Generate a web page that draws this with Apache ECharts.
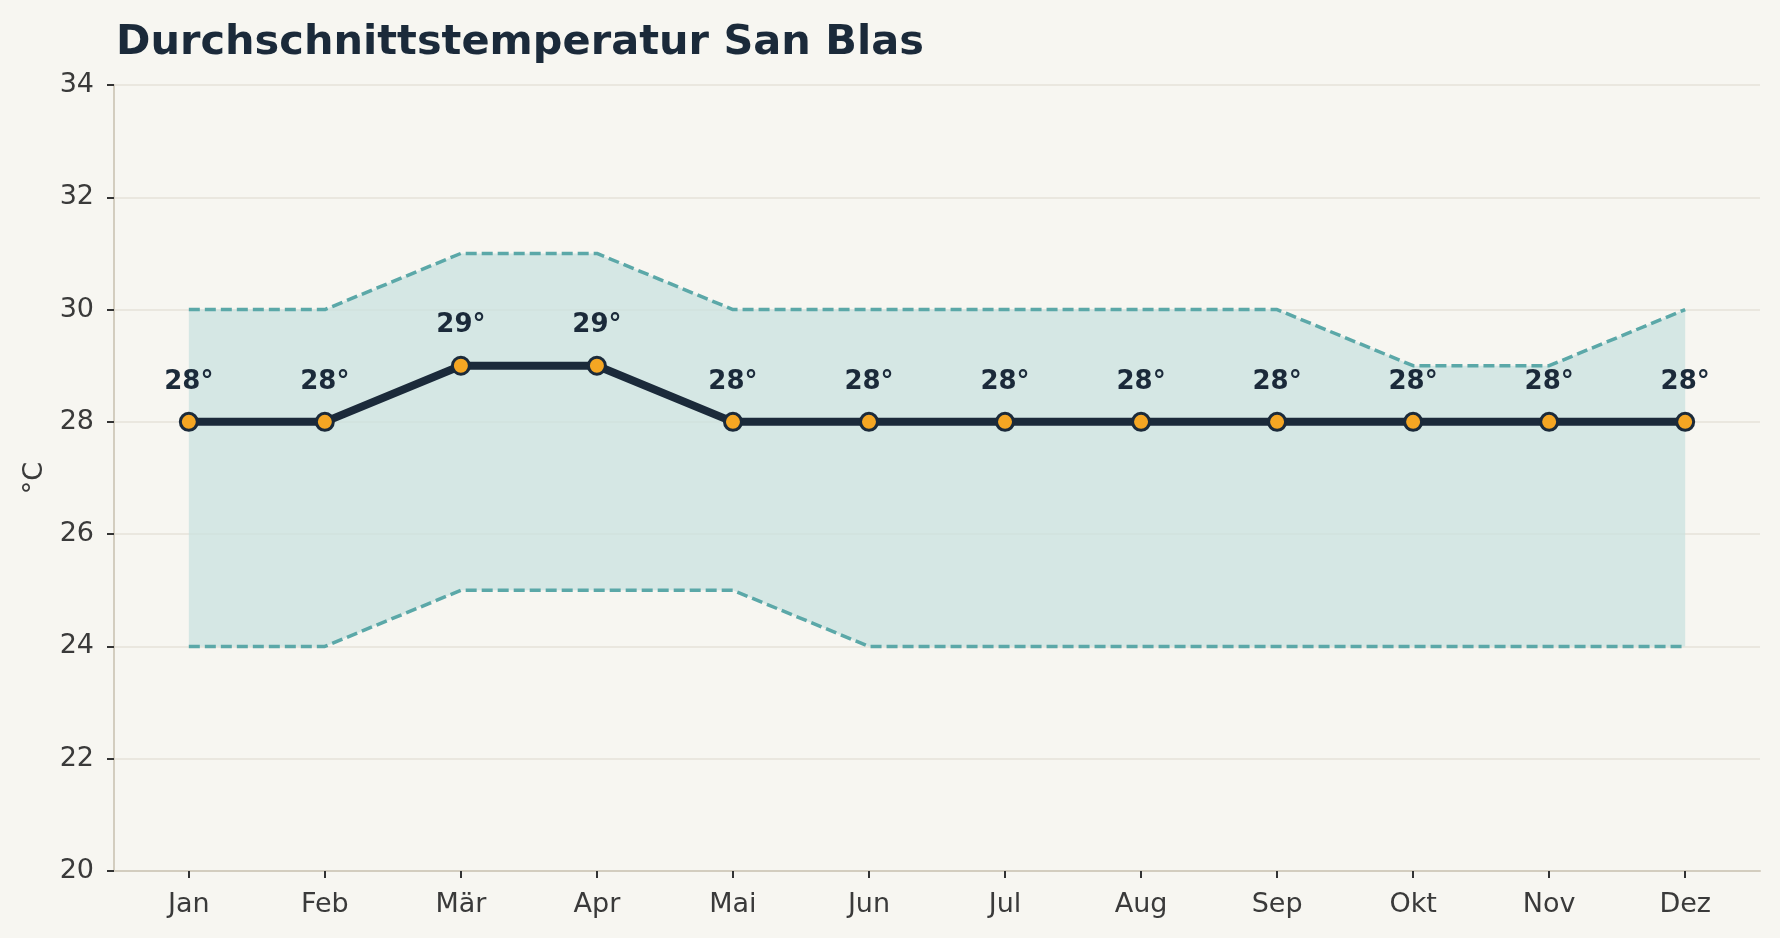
<!DOCTYPE html>
<html>
<head>
<meta charset="utf-8">
<script src="https://cdn.jsdelivr.net/npm/echarts@6/dist/echarts.min.js"></script>
<style>
  html, body { margin: 0; padding: 0; background: #f7f6f1; }
  #chart { width: 1780px; height: 938px; }
</style>
</head>
<body>
<div id="chart"></div>
<script>
const months = ["Jan", "Feb", "Mär", "Apr", "Mai", "Jun", "Jul", "Aug", "Sep", "Okt", "Nov", "Dez"];
const avgTemp = [28, 28, 29, 29, 28, 28, 28, 28, 28, 28, 28, 28];
const maxTemp = [30, 30, 31, 31, 30, 30, 30, 30, 30, 29, 29, 30];
const minTemp = [24, 24, 25, 25, 25, 24, 24, 24, 24, 24, 24, 24];

let myChart = echarts.init(document.getElementById("chart"));

// [index, value] pairs for the value x axis
const pairs = (arr) => arr.map((v, i) => [i, v]);
// value first so the stack runs along y
const bandBase = minTemp.map((v, i) => [v, i]);
const bandHeight = maxTemp.map((v, i) => [v - minTemp[i], i]);

const font = "DejaVu Sans";
const dark = "#1b2a3a";
const teal = "#5ba8a8";

let option = {
  backgroundColor: "#f7f6f1",
  animation: false,
  textStyle: { fontFamily: font },
  title: {
    text: "Durchschnittstemperatur San Blas",
    left: 111,
    top: 17,
    textStyle: { fontFamily: font, fontSize: 41.5, fontWeight: "bold", color: dark },
  },
  grid: { left: 114, right: 20, top: 85, bottom: 67 },
  xAxis: {
    type: "value",
    min: -0.55,
    max: 11.55,
    splitLine: { show: false },
    axisLine: { show: true, onZero: false, lineStyle: { color: "#d3cdbf", width: 2 } },
    axisTick: { show: true, customValues: months.map((m, i) => i), length: 7, lineStyle: { color: "#333", width: 2 } },
    axisLabel: {
      customValues: months.map((m, i) => i),
      formatter: (v) => months[Math.round(v)],
      margin: 20,
      fontSize: 27,
      color: "#3a3a3a",
      fontFamily: font,
    },
  },
  yAxis: {
    type: "value",
    min: 20,
    max: 34,
    interval: 2,
    name: "°C",
    nameLocation: "middle",
    nameGap: 66,
    nameRotate: 90,
    nameTextStyle: { fontSize: 27, color: "#3a3a3a", fontFamily: font },
    axisLine: { show: true, onZero: false, lineStyle: { color: "#d3cdbf", width: 2 } },
    axisTick: { show: true, length: 7, lineStyle: { color: "#333", width: 2 } },
    axisLabel: { margin: 20, fontSize: 27, color: "#3a3a3a", fontFamily: font },
    splitLine: { show: true, lineStyle: { color: "#e6e2d9", width: 1.5 } },
  },
  series: [
    {
      name: "base",
      type: "line",
      stack: "band",
      data: bandBase,
      encode: { x: 1, y: 0 },
      symbol: "none",
      lineStyle: { opacity: 0 },
      silent: true,
    },
    {
      name: "Spanne",
      type: "line",
      stack: "band",
      data: bandHeight,
      encode: { x: 1, y: 0 },
      symbol: "none",
      lineStyle: { opacity: 0 },
      areaStyle: { color: "#c9e2df", opacity: 0.75 },
      silent: true,
    },
    {
      name: "Max",
      type: "line",
      data: pairs(maxTemp),
      symbol: "none",
      lineStyle: { color: teal, width: 3.5, type: [11, 5] },
    },
    {
      name: "Min",
      type: "line",
      data: pairs(minTemp),
      symbol: "none",
      lineStyle: { color: teal, width: 3.5, type: [11, 5] },
    },
    {
      name: "Durchschnitt",
      type: "line",
      data: pairs(avgTemp),
      symbol: "circle",
      symbolSize: 17,
      z: 5,
      lineStyle: { color: dark, width: 8 },
      itemStyle: { color: "#f5a623", borderColor: dark, borderWidth: 3 },
      label: {
        show: true,
        position: "top",
        distance: 17,
        formatter: (p) => p.value[1] + "°",
        fontFamily: font,
        fontSize: 26,
        fontWeight: "bold",
        color: dark,
      },
    },
  ],
};

myChart.setOption(option);
</script>
</body>
</html>
